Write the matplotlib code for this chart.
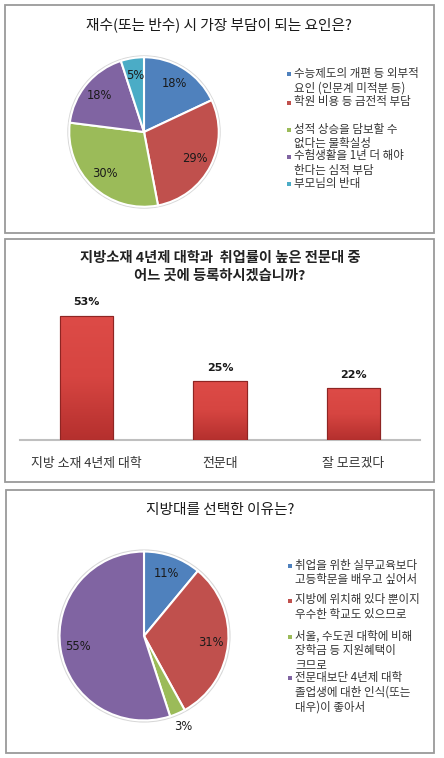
import matplotlib
matplotlib.use("Agg")
import matplotlib.pyplot as plt
import numpy as np
from matplotlib.patches import Rectangle
from matplotlib.colors import LinearSegmentedColormap

plt.rcParams['font.family'] = ['Noto Sans CJK KR', 'DejaVu Sans']

# ---------------- data ----------------
title1 = "재수(또는 반수) 시 가장 부담이 되는 요인은?"
labels1 = ["수능제도의 개편 등 외부적\n요인 (인문계 미적분 등)",
           "학원 비용 등 금전적 부담",
           "성적 상승을 담보할 수\n없다는 불확실성",
           "수험생활을 1년 더 해야\n한다는 심적 부담",
           "부모님의 반대"]
values1 = [18, 29, 30, 18, 5]
colors1 = ["#4F81BD", "#C0504D", "#9BBB59", "#8064A2", "#4BACC6"]

title2 = "지방소재 4년제 대학과  취업률이 높은 전문대 중\n어느 곳에 등록하시겠습니까?"
categories2 = ["지방 소재 4년제 대학", "전문대", "잘 모르겠다"]
values2 = [53, 25, 22]

title3 = "지방대를 선택한 이유는?"
labels3 = ["취업을 위한 실무교육보다\n고등학문을 배우고 싶어서",
           "지방에 위치해 있다 뿐이지\n우수한 학교도 있으므로",
           "서울, 수도권 대학에 비해\n장학금 등 지원혜택이\n크므로",
           "전문대보단 4년제 대학\n졸업생에 대한 인식(또는\n대우)이 좋아서"]
values3 = [11, 31, 3, 55]
colors3 = ["#4F81BD", "#C0504D", "#9BBB59", "#8064A2"]

# ---------------- figure ----------------
W, H = 444, 758
fig = plt.figure(figsize=(W / 100, H / 100), dpi=100)
fig.patch.set_facecolor("white")

def fx(x):
    return x / W

def fy(y):
    return 1 - y / H

def panel(x0, y0, x1, y1):
    fig.patches.append(Rectangle((fx(x0), fy(y1)), fx(x1) - fx(x0), fy(y0) - fy(y1),
                                 transform=fig.transFigure, fill=False,
                                 edgecolor="#9A9A9A", linewidth=1.3))

panel(5, 5, 434, 233)
panel(5, 239, 434, 482)
panel(6, 490, 434, 753)

TXT = "#1A1A1A"

def pie_axes(cx, cy, r):
    return fig.add_axes([fx(cx - r), fy(cy + r), (2 * r) / W, (2 * r) / H])

def draw_pie(ax, vals, cols, pctd=0.77, outside_small=None):
    wedges, texts, autotexts = ax.pie(
        vals, colors=cols, startangle=90, counterclock=False,
        autopct=lambda p: f"{p:.0f}%", pctdistance=pctd,
        wedgeprops=dict(edgecolor="white", linewidth=1.5),
        textprops=dict(fontsize=8.3, color=TXT, family="DejaVu Sans"))
    ax.set_xlim(-1.03, 1.03)
    ax.set_ylim(-1.03, 1.03)
    ax.set_aspect("equal")
    ring = plt.Circle((0, 0), 1.015, facecolor="none", edgecolor="#D8D8D8", linewidth=1.2, zorder=0)
    ax.add_patch(ring)
    if outside_small is not None:
        for w, t, v in zip(wedges, autotexts, vals):
            if v <= outside_small:
                ang = np.deg2rad((w.theta1 + w.theta2) / 2)
                t.set_position((1.17 * np.cos(ang), 1.17 * np.sin(ang)))
                t.set_clip_on(False)
    return wedges

def legend_block(x_marker, x_text, ys, labels, cols):
    for y, lab, c in zip(ys, labels, cols):
        fig.patches.append(Rectangle((fx(x_marker - 2), fy(y + 2)), 4 / W, 4 / H,
                                     transform=fig.transFigure, facecolor=c, edgecolor="none"))
        fig.text(fx(x_text), fy(y - 7.5), lab, ha="left", va="top", fontsize=8.3,
                 color="#333333", linespacing=1.18, transform=fig.transFigure)

# ---------------- panel 1 ----------------
fig.text(fx(219), fy(25), title1, ha="center", va="center", fontsize=10.6, color=TXT)
ax1 = pie_axes(144, 132, 77)
draw_pie(ax1, values1, colors1, pctd=0.77)
legend_block(289, 294, [74, 103, 130, 157, 184], labels1, colors1)

# ---------------- panel 2 ----------------
fig.text(fx(220), fy(267), title2, ha="center", va="center", fontsize=10.3,
         fontweight="bold", color="#222222", linespacing=1.3)
ax2 = fig.add_axes([fx(20), fy(440), 400 / W, 150 / H])
xpos = np.arange(len(values2))
bars = ax2.bar(xpos, values2, width=0.4, color="#D64541", edgecolor="#9E2A28", linewidth=0.8, zorder=2)
ax2.set_xlim(-0.5, len(values2) - 0.5)
ax2.set_ylim(0, 64)
grad = np.linspace(0, 1, 64).reshape(-1, 1)
cmap = LinearSegmentedColormap.from_list("rg", ["#B5302E", "#D64541", "#DD4B47"])
for b in bars:
    im = ax2.imshow(grad, extent=(b.get_x(), b.get_x() + b.get_width(), 0, b.get_height()),
                    origin="lower", cmap=cmap, aspect="auto", zorder=3)
    im.set_clip_path(b)
    ax2.bar(b.get_x() + b.get_width() / 2, b.get_height(), width=b.get_width(),
            facecolor="none", edgecolor="#8E2523", linewidth=0.8, zorder=4)
for x, v in zip(xpos, values2):
    ax2.annotate(f"{v}%", (x, v), xytext=(0, 6), textcoords="offset points",
                 ha="center", va="bottom", fontsize=8, fontweight="bold",
                 family="DejaVu Sans", color=TXT)
ax2.set_aspect("auto")
for s in ["top", "right", "left"]:
    ax2.spines[s].set_visible(False)
ax2.spines["bottom"].set_color("#BFBFBF")
ax2.spines["bottom"].set_linewidth(1.5)
ax2.set_yticks([])
ax2.set_xticks(xpos)
ax2.set_xticklabels(categories2, fontsize=9.3, color="#333333")
ax2.tick_params(axis="x", length=0, pad=12)
ax2.patch.set_visible(False)

# ---------------- panel 3 ----------------
fig.text(fx(220), fy(510), title3, ha="center", va="center", fontsize=10.6, color=TXT)
ax3 = pie_axes(144, 636, 87)
draw_pie(ax3, values3, colors3, pctd=0.79, outside_small=3)
legend_block(290, 295, [566, 601, 637, 678], labels3, colors3)

fig.savefig("out.png", dpi=100, facecolor="white")
